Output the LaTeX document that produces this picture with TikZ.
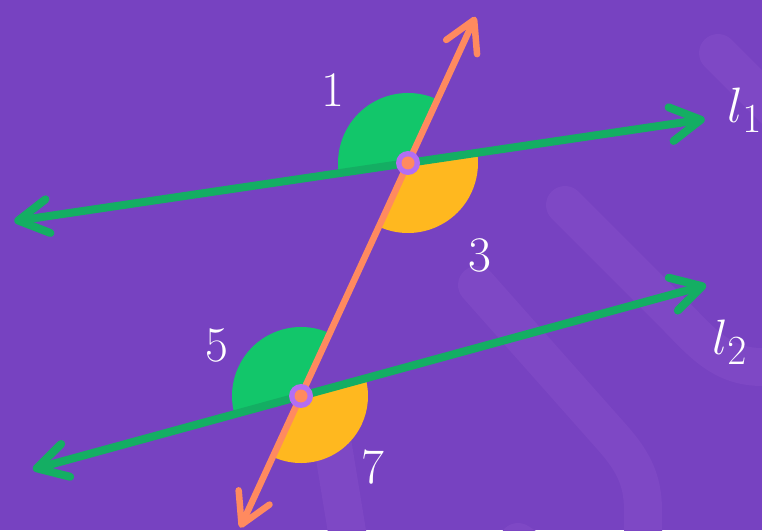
\documentclass[tikz,border=0pt]{standalone}
\usepackage{tikz}
\usetikzlibrary{calc, arrows.meta}

\definecolor{bgpurple}{HTML}{7742C1}
\definecolor{swoosh}{HTML}{7E48C5}
\definecolor{linegreen}{HTML}{14AE63}
\definecolor{anglegreen}{HTML}{12C66A}
\definecolor{angleyellow}{HTML}{FFB81F}
\definecolor{transorange}{HTML}{FF8A5F}
\definecolor{dotring}{HTML}{B36EF3}

\begin{document}
\begin{tikzpicture}[x=1pt, y=1pt,
    >={Straight Barb[length=30pt, width=34pt, line cap=round, line join=round]},
    parline/.style={line width=8pt, linegreen, <->},
    transline/.style={line width=6.5pt, transorange, <->},
    swooshline/.style={line width=38pt, swoosh, line cap=round, line join=round},
    anglelbl/.style={text=white, font=\Huge, scale=2, inner sep=0pt}]

    % =================================================================
    % 1. BACKGROUND AND FAINT DECORATIVE STROKES
    % =================================================================
    \fill[bgpurple] (0,0) rectangle (762,530);
    \useasboundingbox (0,0) rectangle (762,530);
    \begin{scope}
        \clip (0,0) rectangle (762,530);
        \draw[swooshline] (718,477) -- (800,395);
        \draw[swooshline] (565,325) -- (670,220) to[out=-45, in=180] (762,163) -- (800,163);
        \draw[swooshline] (477,245) -- (610,95) to[out=-48, in=90] (643,20) -- (643,-30);
        \draw[swooshline] (518,-12) -- (560,-40);
        \draw[swooshline] (332,90) -- (350,-20);
    \end{scope}

    % =================================================================
    % 2. INTERSECTION POINTS AND LINE ENDS
    % =================================================================
    \coordinate (p1) at (408,367);
    \coordinate (p2) at (301,134);
    \coordinate (l1w) at ($(p1)+(188.4:398)$);
    \coordinate (l1e) at ($(p1)+(8.4:300)$);
    \coordinate (l2w) at ($(p2)+(195.3:278)$);
    \coordinate (l2e) at ($(p2)+(15.3:420)$);
    \coordinate (tn) at ($(p1)+(65.2:161)$);
    \coordinate (ts) at ($(p2)+(245.2:145)$);

    % =================================================================
    % 3. ANGLE SECTORS
    % =================================================================
    \fill[anglegreen] (p1) -- ++(65.2:70) arc[start angle=65.2, end angle=188.4, radius=70] -- cycle;
    \fill[angleyellow] (p1) -- ++(245.2:70) arc[start angle=245.2, end angle=368.4, radius=70] -- cycle;
    \fill[anglegreen] (p2) -- ++(65.2:69) arc[start angle=65.2, end angle=195.3, radius=69] -- cycle;
    \fill[angleyellow] (p2) -- ++(245.2:67) arc[start angle=245.2, end angle=375.3, radius=67] -- cycle;

    % =================================================================
    % 4. PARALLEL LINES AND TRANSVERSAL
    % =================================================================
    \draw[parline] (l1w) -- (l1e);
    \draw[parline] (l2w) -- (l2e);
    \draw[transline] (ts) -- (tn);

    \foreach \p in {p1, p2} {
        \fill[dotring] (\p) circle[radius=12];
        \fill[transorange] (\p) circle[radius=6.5];
    }

    % =================================================================
    % 5. LABELS
    % =================================================================
    \node[anglelbl] (a1) at (333,440) {1};
    \node[anglelbl] (a3) at (480,275) {3};
    \node[anglelbl] (a5) at (217,185) {5};
    \node[anglelbl] (a7) at (373,63) {7};
    \node[anglelbl] (n1) at (745,420) {$l_1$};
    \node[anglelbl] (n2) at (730,188) {$l_2$};

\end{tikzpicture}
\end{document}
